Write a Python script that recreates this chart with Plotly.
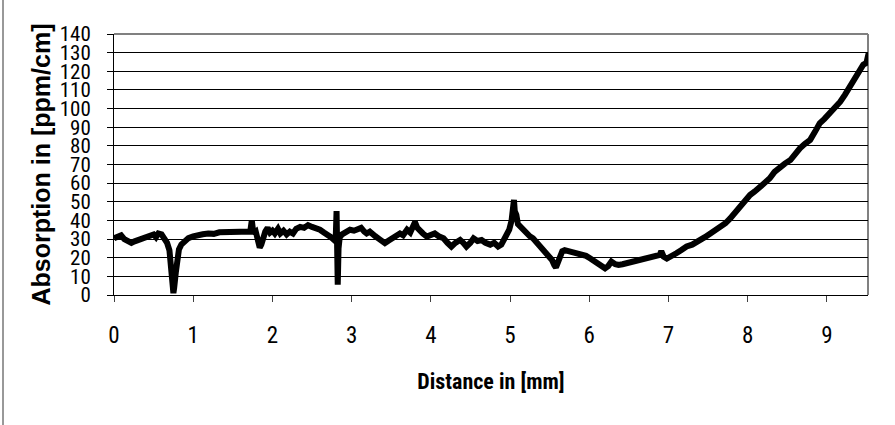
import plotly.graph_objects as go

distance_mm = [
    0.00, 0.04, 0.09, 0.13, 0.18, 0.22, 0.26, 0.30, 0.35, 0.40, 0.45, 0.50, 0.53, 0.56, 0.60,
    0.63, 0.67, 0.70, 0.72, 0.74, 0.75, 0.76, 0.78, 0.80, 0.82, 0.85, 0.89, 0.94, 1.00, 1.05,
    1.12, 1.19, 1.26, 1.33, 1.40, 1.48, 1.55, 1.62, 1.68, 1.72, 1.74, 1.76, 1.79, 1.82, 1.84,
    1.86, 1.88, 1.91, 1.94, 1.97, 2.00, 2.03, 2.07, 2.10, 2.14, 2.18, 2.22, 2.26, 2.30, 2.35,
    2.40, 2.45, 2.50, 2.55, 2.60, 2.65, 2.70, 2.74, 2.78, 2.80, 2.81, 2.822, 2.825, 2.835, 2.85,
    2.88, 2.93, 2.98, 3.03, 3.08, 3.12, 3.16, 3.19, 3.23, 3.27, 3.30, 3.35, 3.39, 3.42, 3.46,
    3.50, 3.53, 3.57, 3.61, 3.65, 3.70, 3.74, 3.78, 3.80, 3.83, 3.86, 3.90, 3.95, 4.00, 4.05,
    4.10, 4.16, 4.21, 4.26, 4.31, 4.37, 4.41, 4.45, 4.50, 4.54, 4.59, 4.64, 4.69, 4.75, 4.80,
    4.85, 4.89, 4.92, 4.96, 4.99, 5.02, 5.04, 5.05, 5.06, 5.08, 5.10, 5.13, 5.17, 5.21, 5.25,
    5.29, 5.33, 5.38, 5.42, 5.46, 5.50, 5.53, 5.56, 5.58, 5.60, 5.63, 5.66, 5.69, 5.74, 5.80,
    5.85, 5.91, 5.96, 6.01, 6.05, 6.09, 6.14, 6.20, 6.24, 6.28, 6.33, 6.37, 6.42, 6.47, 6.53,
    6.60, 6.66, 6.73, 6.79, 6.85, 6.89, 6.91, 6.94, 6.98, 7.03, 7.10, 7.16, 7.23, 7.30, 7.35,
    7.40, 7.46, 7.53, 7.59, 7.66, 7.72, 7.78, 7.84, 7.90, 7.96, 8.03, 8.09, 8.16, 8.22, 8.28,
    8.34, 8.41, 8.47, 8.54, 8.60, 8.66, 8.72, 8.79, 8.85, 8.91, 8.97, 9.04, 9.10, 9.17, 9.23,
    9.29, 9.35, 9.42, 9.46, 9.50, 9.53,
]

absorption_ppm_cm = [
    30.5, 31.5, 32.0, 30.0, 28.5, 28.0, 28.8, 29.5, 30.5, 31.0, 31.6, 32.5, 31.0, 33.0, 32.5,
    30.5, 28.0, 24.0, 15.0, 5.0, 1.0, 4.0, 12.0, 20.0, 24.5, 27.0, 28.6, 30.5, 31.5, 32.2,
    32.6, 33.0, 32.8, 33.6, 33.6, 34.0, 33.8, 34.3, 33.5, 34.0, 40.0, 33.0, 34.0, 30.0, 25.5,
    27.0, 30.5, 34.0, 36.0, 33.5, 34.5, 33.0, 35.5, 33.0, 34.5, 32.5, 34.0, 33.0, 35.5, 36.5,
    36.0, 37.5, 36.5, 36.0, 35.0, 33.5, 32.5, 31.0, 29.5, 31.0, 45.0, 30.0, 5.5, 25.0, 31.0,
    32.5, 34.0, 35.0, 34.5, 35.5, 36.0, 34.0, 33.0, 34.0, 32.0, 31.5, 30.0, 28.5, 27.8, 29.0,
    30.0, 30.5, 32.0, 33.0, 32.0, 35.0, 33.5, 37.0, 39.0, 36.0, 34.5, 33.0, 31.3, 32.0, 33.0,
    31.5, 30.4, 28.0, 26.0, 28.0, 29.5, 28.0, 26.0, 28.0, 30.4, 29.0, 29.5, 28.0, 27.0, 28.0,
    26.0, 27.0, 29.5, 32.5, 35.0, 40.0, 47.0, 51.0, 45.0, 43.0, 38.0, 36.5, 34.5, 33.0, 31.5,
    30.4, 28.5, 26.8, 25.0, 23.2, 21.0, 18.8, 16.0, 14.8, 17.0, 21.5, 23.5, 24.1, 23.5, 22.7,
    22.0, 22.0, 21.0, 19.7, 18.5, 17.0, 16.0, 14.3, 15.5, 17.9, 16.5, 16.1, 16.5, 17.0, 17.5,
    18.4, 19.0, 19.7, 20.5, 20.9, 21.5, 23.5, 20.5, 19.5, 20.5, 22.4, 24.0, 26.0, 27.0, 28.0,
    29.5, 31.0, 33.0, 34.5, 36.6, 38.5, 41.1, 44.0, 47.4, 50.5, 53.6, 55.5, 58.1, 60.5, 62.6,
    66.0, 68.8, 70.5, 72.4, 76.0, 78.7, 81.0, 83.2, 87.5, 92.1, 94.5, 97.5, 100.5, 103.7, 107.5,
    111.7, 116.0, 120.7, 123.5, 124.5, 130.0,
]

x_ticks = [0, 1, 2, 3, 4, 5, 6, 7, 8, 9]
y_ticks = list(range(0, 141, 10))

x_title = "Distance in [mm]"
y_title = "Absorption in [ppm/cm]"

NARROW = "Roboto Condensed, Liberation Sans Narrow, Arial Narrow, sans-serif"
WIDE = "Liberation Sans, Arial, sans-serif"

fig = go.Figure()
fig.add_trace(go.Scatter(
    x=distance_mm, y=absorption_ppm_cm, mode="lines",
    line=dict(color="black", width=6), showlegend=False, hoverinfo="x+y",
))

fig.update_layout(
    width=895, height=425,
    margin=dict(l=114, r=27, t=34, b=130),
    paper_bgcolor="white", plot_bgcolor="white",
    xaxis=dict(
        range=[0, 9.52], tickvals=x_ticks, ticktext=[str(v) for v in x_ticks],
        showgrid=False, zeroline=False, showline=True, linecolor="black", linewidth=1,
        ticks="outside", ticklen=6, tickcolor="#404040", tickwidth=1,
        tickfont=dict(family=NARROW, size=23, color="black"),
        ticklabelstandoff=13,
        title=dict(text="<b>" + x_title + "</b>", standoff=26,
                   font=dict(family=NARROW, size=22, color="black")),
        automargin=False,
    ),
    yaxis=dict(
        range=[0, 140], tickvals=y_ticks, ticktext=[str(v) for v in y_ticks],
        showgrid=True, gridcolor="black", gridwidth=1,
        zeroline=False, showline=True, linecolor="black", linewidth=1,
        ticks="outside", ticklen=6, tickcolor="black", tickwidth=1,
        tickfont=dict(family=NARROW, size=21, color="black"),
        ticklabelstandoff=12,
        title=dict(text="<b>" + y_title + "</b>", standoff=1,
                   font=dict(family=WIDE, size=25, color="black")),
        automargin=False,
    ),
    shapes=[
        dict(type="line", xref="paper", yref="paper", x0=0, x1=1, y0=1, y1=1,
             line=dict(color="#808080", width=2), layer="above"),
        dict(type="line", xref="paper", yref="paper", x0=1, x1=1, y0=0, y1=1,
             line=dict(color="#808080", width=2), layer="below"),
        dict(type="line", xref="paper", yref="paper", x0=-0.1472, x1=-0.1472, y0=-0.5, y1=1.2,
             line=dict(color="#333333", width=1)),
    ],
)

fig.write_html("out.html", config={"displayModeBar": False},
               post_script="document.body.style.margin='0';")
